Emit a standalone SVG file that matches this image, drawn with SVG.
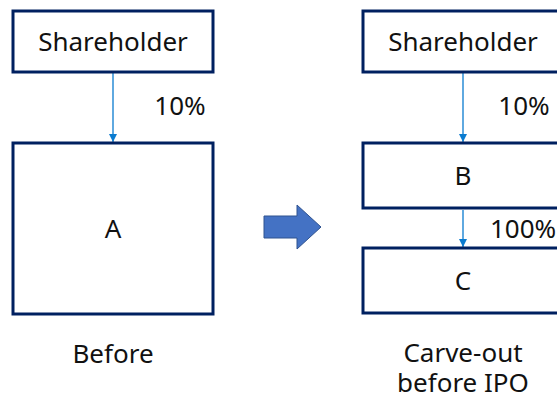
<svg xmlns="http://www.w3.org/2000/svg" width="557" height="395" viewBox="0 0 557 395">
<style>
.box{fill:#fff;stroke:#002060;stroke-width:3}
.t{font-family:"Noto Sans","DejaVu Sans",sans-serif;font-size:26px;fill:#111;text-anchor:middle}
.c{stroke:#0A7BD0;stroke-width:1.3;fill:none}
</style>
<defs>
<marker id="ah" viewBox="0 0 10 10" refX="10" refY="5" markerWidth="8" markerHeight="8" markerUnits="userSpaceOnUse" orient="auto">
<path d="M0,0L10,5L0,10z" fill="#0A7BD0"/>
</marker>
</defs>
<rect width="557" height="395" fill="#fff"/>
<g id="connectors">
<line class="c" x1="113" y1="72" x2="113" y2="142" marker-end="url(#ah)"/>
<line class="c" x1="463" y1="72" x2="463" y2="142" marker-end="url(#ah)"/>
<line class="c" x1="463" y1="210" x2="463" y2="247" marker-end="url(#ah)"/>
</g>
<g id="sh1"><rect class="box" x="13" y="11" width="200" height="61"/><text class="t" x="113" y="51">Shareholder</text></g>
<g id="a"><rect class="box" x="13" y="143" width="200" height="171"/><text class="t" x="113" y="238">A</text></g>
<g id="sh2"><rect class="box" x="363" y="11" width="200" height="61"/><text class="t" x="463" y="51">Shareholder</text></g>
<g id="b"><rect class="box" x="363" y="143" width="200" height="65"/><text class="t" x="463" y="185">B</text></g>
<g id="c"><rect class="box" x="363" y="248" width="200" height="65"/><text class="t" x="463" y="290">C</text></g>
<g id="labels">
<text class="t" x="180" y="115">10%</text>
<text class="t" x="524" y="115">10%</text>
<text class="t" x="490" y="238" style="text-anchor:start">100%</text>
<text class="t" x="113" y="363">Before</text>
<text class="t" x="463" y="362">Carve-out</text>
<text class="t" x="463" y="392">before IPO</text>
</g>
<g id="bigarrow"><path d="M264,216H297V205L321,227L297,249V238H264Z" fill="#4472C4" stroke="#2F528F" stroke-width="1"/></g>
</svg>
